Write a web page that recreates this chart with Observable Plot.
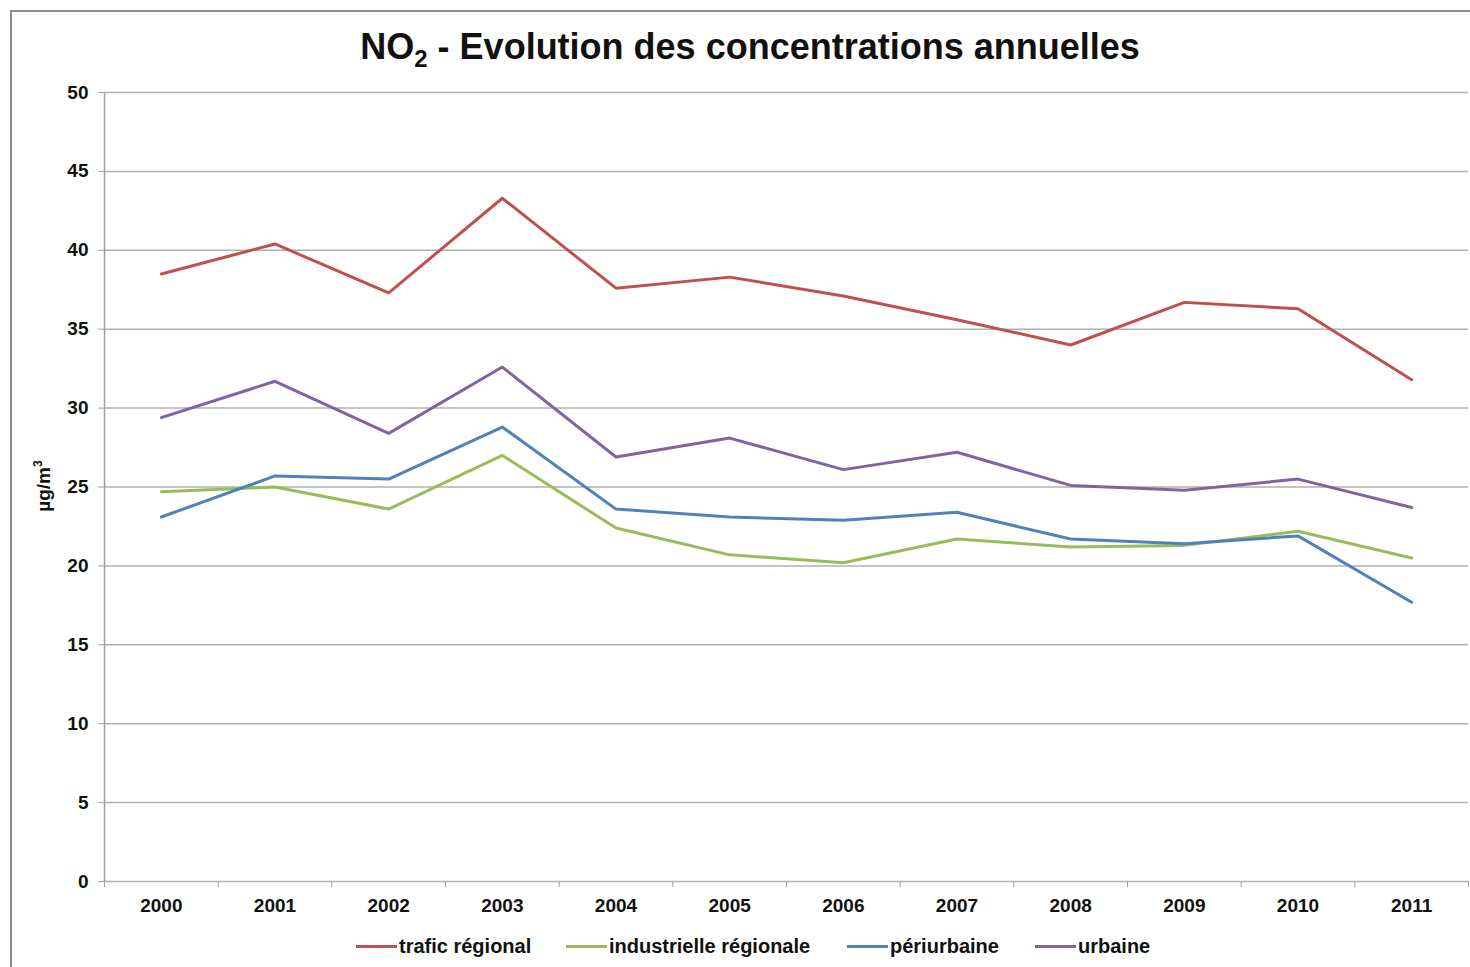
<!DOCTYPE html>
<html>
<head>
<meta charset="utf-8">
<script src="https://cdn.jsdelivr.net/npm/d3@7"></script>
<script src="https://cdn.jsdelivr.net/npm/@observablehq/plot@0.6"></script>
<style>
  html, body { margin: 0; padding: 0; background: #fff; width: 1470px; height: 967px; overflow: hidden; }
  body { position: relative; font-family: "Liberation Sans", Arial, sans-serif; }
  #frame { position: absolute; left: 10px; top: 10px; width: 1480px; height: 980px; border: 2px solid #8c8c8c; box-sizing: border-box; }
  #title { position: absolute; left: 0; top: 27px; width: 1500px; text-align: center; font-weight: bold; font-size: 36px; color: #111; line-height: 40px; }
  #title sub { font-size: 24px; vertical-align: -8px; line-height: 0; }
  #chart { position: absolute; left: 0; top: 70px; }
  #ylabel { position: absolute; left: 44px; top: 486px; transform: translate(-50%, -50%) rotate(-90deg); font-weight: bold; font-size: 19px; color: #111; white-space: nowrap; }
  #ylabel sup { font-size: 12px; vertical-align: 8px; line-height: 0; }
  #legend { position: absolute; top: 934px; left: 0; width: 1470px; height: 24px; }
  .item { position: absolute; top: 0; display: flex; align-items: center; font-weight: bold; font-size: 20px; color: #111; height: 24px; }
  .sw { width: 41px; height: 3px; margin-right: 2px; }
</style>
</head>
<body>
<div id="frame"></div>
<div id="title">NO<sub>2</sub> - Evolution des concentrations annuelles</div>
<div id="ylabel">µg/m<sup>3</sup></div>
<div id="chart"></div>
<div id="legend"></div>
<script>
const years = [2000, 2001, 2002, 2003, 2004, 2005, 2006, 2007, 2008, 2009, 2010, 2011];
const seriesNames = ["trafic régional", "industrielle régionale", "périurbaine", "urbaine"];
const seriesColors = ["#c0504d", "#9bbb59", "#4f81bd", "#8064a2"];
const traficRegional = [38.5, 40.4, 37.3, 43.3, 37.6, 38.3, 37.1, 35.6, 34.0, 36.7, 36.3, 31.8];
const industrielleRegionale = [24.7, 25.0, 23.6, 27.0, 22.4, 20.7, 20.2, 21.7, 21.2, 21.3, 22.2, 20.5];
const periurbaine = [23.1, 25.7, 25.5, 28.8, 23.6, 23.1, 22.9, 23.4, 21.7, 21.4, 21.9, 17.7];
const urbaine = [29.4, 31.7, 28.4, 32.6, 26.9, 28.1, 26.1, 27.2, 25.1, 24.8, 25.5, 23.7];
const yTicks = [0, 5, 10, 15, 20, 25, 30, 35, 40, 45, 50];

const seriesValues = [traficRegional, industrielleRegionale, periurbaine, urbaine];
const data = [];
seriesNames.forEach((name, i) => {
  years.forEach((yr, j) => data.push({series: name, year: yr, value: seriesValues[i][j]}));
});
const boundaries = years.map(y => y - 0.5).concat([years[years.length - 1] + 0.5]);

const chart = Plot.plot({
  width: 1470,
  height: 870,
  marginTop: 22,
  marginBottom: 59,
  marginLeft: 104,
  marginRight: 2,
  style: {fontFamily: "'Liberation Sans', Arial, sans-serif", fontSize: "19px", fontWeight: "bold", color: "#111", background: "transparent"},
  x: {type: "linear", domain: [boundaries[0], boundaries[boundaries.length - 1]]},
  y: {domain: [0, 50]},
  color: {domain: seriesNames, range: seriesColors},
  marks: [
    Plot.ruleY(yTicks, {stroke: "#b0b0b0", strokeWidth: 1.5}),
    Plot.ruleX([boundaries[0]], {y1: 0, y2: 50, stroke: "#a0a0a0", strokeWidth: 1.5}),
    Plot.axisY({ticks: yTicks, tickSize: 6, tickPadding: 10, label: null, stroke: "#a0a0a0"}),
    Plot.axisX({ticks: boundaries, tickSize: 6, tickFormat: () => "", label: null, stroke: "#a0a0a0"}),
    Plot.axisX({ticks: years, tickSize: 0, tickPadding: 17, tickFormat: d => String(d), label: null}),
    Plot.line(data, {x: "year", y: "value", z: "series", stroke: "series", strokeWidth: 3})
  ]
});
document.getElementById("chart").appendChild(chart);

const legendPos = [356, 566, 847, 1035];
const legend = document.getElementById("legend");
seriesNames.forEach((name, i) => {
  const it = document.createElement("div");
  it.className = "item";
  it.style.left = legendPos[i] + "px";
  const sw = document.createElement("div");
  sw.className = "sw";
  sw.style.background = seriesColors[i];
  const tx = document.createElement("span");
  tx.textContent = name;
  it.appendChild(sw);
  it.appendChild(tx);
  legend.appendChild(it);
});
</script>
</body>
</html>
